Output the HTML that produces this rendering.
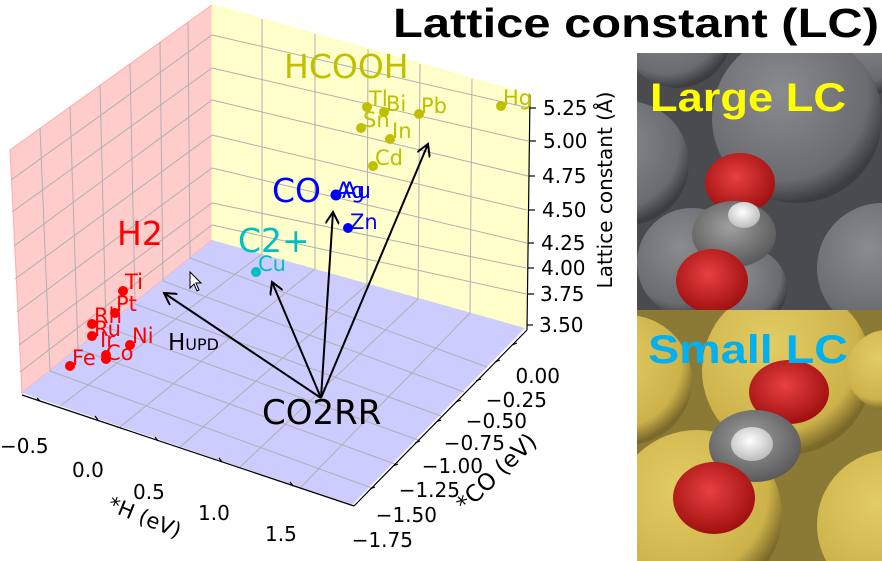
<!DOCTYPE html>
<html><head><meta charset="utf-8"><style>
html,body{margin:0;padding:0;background:#fff;width:882px;height:561px;overflow:hidden;}
svg{display:block;font-family:"DejaVu Sans","Liberation Sans",sans-serif;}
</style></head><body>
<svg width="882" height="561" viewBox="0 0 882 561" xmlns="http://www.w3.org/2000/svg" overflow="hidden">
<defs>
<marker id="ah" markerWidth="14" markerHeight="14" refX="12" refY="7" orient="auto" markerUnits="userSpaceOnUse">
<path d="M0,0 L12,7 L0,14" fill="none" stroke="#000" stroke-width="2"/></marker>
<radialGradient id="gg" cx="40%" cy="35%" r="65%"><stop offset="0" stop-color="#8a8b8f"/><stop offset="0.8" stop-color="#6a6b70"/><stop offset="1" stop-color="#3c3d41"/></radialGradient>
<radialGradient id="yg" cx="40%" cy="35%" r="65%"><stop offset="0" stop-color="#e3cc63"/><stop offset="0.8" stop-color="#cdb24a"/><stop offset="1" stop-color="#7c6a2a"/></radialGradient>
<radialGradient id="rg" cx="45%" cy="40%" r="60%"><stop offset="0" stop-color="#e84040"/><stop offset="1" stop-color="#a01010"/></radialGradient>
<radialGradient id="cg" cx="45%" cy="40%" r="60%"><stop offset="0" stop-color="#a0a0a0"/><stop offset="1" stop-color="#5a5a5a"/></radialGradient>
<radialGradient id="hg" cx="45%" cy="40%" r="60%"><stop offset="0" stop-color="#fff"/><stop offset="1" stop-color="#bcbcbc"/></radialGradient>
</defs>

<polygon points="10,150 212,5 212,240 22,393" fill="#ffcccc" stroke="#ffaaaa"/>
<polygon points="212,5 530,95 525,328 212,240" fill="#ffffcc" stroke="#ffffaa"/>
<polygon points="212,240 525,328 352,505 22,393" fill="#ccccff"/>
<g stroke="#b0b0b0" stroke-width="1" fill="none">
<line x1="40" y1="128" x2="50" y2="371"/><line x1="70" y1="107" x2="78" y2="349"/>
<line x1="100" y1="85" x2="106" y2="327"/><line x1="130" y1="64" x2="135" y2="304"/>
<line x1="160" y1="42" x2="163" y2="281"/><line x1="188" y1="22" x2="190" y2="258"/>
<line x1="11" y1="180" x2="212" y2="35"/><line x1="12" y1="212" x2="212" y2="68"/>
<line x1="14" y1="246" x2="212" y2="100"/><line x1="15" y1="279" x2="212" y2="135"/>
<line x1="17" y1="312" x2="212" y2="168"/><line x1="19" y1="345" x2="212" y2="203"/>
<line x1="20" y1="372" x2="212" y2="225"/>
<line x1="262" y1="19" x2="262" y2="254"/><line x1="315" y1="34" x2="315" y2="269"/>
<line x1="368" y1="49" x2="367" y2="284"/><line x1="420" y1="64" x2="418" y2="299"/>
<line x1="472" y1="79" x2="470" y2="313"/>
<line x1="212" y1="35" x2="529" y2="108"/><line x1="212" y1="68" x2="528" y2="141"/>
<line x1="212" y1="100" x2="528" y2="176"/><line x1="212" y1="135" x2="527" y2="210"/>
<line x1="212" y1="168" x2="527" y2="243"/><line x1="212" y1="203" x2="526" y2="268"/>
<line x1="212" y1="225" x2="526" y2="294"/>
<line x1="50" y1="371" x2="372" y2="488"/><line x1="78" y1="349" x2="395" y2="464"/>
<line x1="106" y1="327" x2="418" y2="440"/><line x1="135" y1="304" x2="441" y2="416"/>
<line x1="163" y1="281" x2="464" y2="392"/><line x1="190" y1="258" x2="487" y2="367"/>
<line x1="262" y1="254" x2="60" y2="406"/><line x1="315" y1="269" x2="120" y2="427"/>
<line x1="368" y1="284" x2="180" y2="447"/><line x1="418" y1="299" x2="240" y2="467"/>
<line x1="470" y1="313" x2="300" y2="488"/>
</g>
<g stroke="#000" stroke-width="1.2" fill="none">
<line x1="22" y1="395" x2="354" y2="506"/>
<line x1="354" y1="506" x2="527" y2="330"/>
<line x1="527" y1="330" x2="530" y2="95"/>
<line x1="40" y1="401" x2="37" y2="398"/><line x1="98" y1="420" x2="95" y2="416"/>
<line x1="158" y1="441" x2="155" y2="437"/><line x1="222" y1="462" x2="219" y2="458"/>
<line x1="293" y1="486" x2="290" y2="482"/>
<line x1="530" y1="108" x2="536" y2="108"/><line x1="530" y1="141" x2="536" y2="141"/>
<line x1="529" y1="176" x2="535" y2="176"/><line x1="529" y1="210" x2="535" y2="210"/>
<line x1="528" y1="243" x2="534" y2="243"/><line x1="528" y1="268" x2="534" y2="268"/>
<line x1="528" y1="294" x2="534" y2="294"/><line x1="527" y1="325" x2="533" y2="325"/>
<line x1="512" y1="345" x2="517" y2="343"/><line x1="495" y1="362" x2="500" y2="360"/>
<line x1="476" y1="381" x2="481" y2="379"/><line x1="456" y1="402" x2="461" y2="400"/>
<line x1="436" y1="422" x2="441" y2="420"/><line x1="415" y1="443" x2="420" y2="441"/>
<line x1="393" y1="466" x2="398" y2="464"/><line x1="370" y1="489" x2="375" y2="487"/>
</g>
<g font-size="20" fill="#000">
<text x="543" y="115">5.25</text><text x="543" y="148">5.00</text>
<text x="542" y="183">4.75</text><text x="542" y="217">4.50</text>
<text x="541" y="250">4.25</text><text x="541" y="275">4.00</text>
<text x="540" y="301">3.75</text><text x="539" y="332">3.50</text>
<text x="560" y="383" text-anchor="end">0.00</text><text x="547" y="407" text-anchor="end">−0.25</text>
<text x="527" y="428" text-anchor="end">−0.50</text><text x="505" y="450" text-anchor="end">−0.75</text>
<text x="483" y="473" text-anchor="end">−1.00</text><text x="460" y="497" text-anchor="end">−1.25</text>
<text x="437" y="522" text-anchor="end">−1.50</text><text x="413" y="547" text-anchor="end">−1.75</text>
<text x="0" y="453">−0.5</text><text x="72" y="477">0.0</text><text x="133" y="499">0.5</text>
<text x="198" y="520">1.0</text><text x="265" y="541">1.5</text>
<text transform="translate(612,190) rotate(-90)" text-anchor="middle" font-size="20">Lattice constant (Å)</text>
<text transform="translate(502,478) rotate(-44)" text-anchor="middle" font-size="23">*CO (eV)</text>
<text transform="translate(142,524) rotate(22)" text-anchor="middle" font-size="21">*H (eV)</text>
</g>
<g stroke="#000" stroke-width="2" fill="none" marker-end="url(#ah)">
<line x1="321" y1="398" x2="164" y2="293"/>
<line x1="321" y1="398" x2="272" y2="282"/>
<line x1="321" y1="398" x2="333" y2="212"/>
<line x1="321" y1="398" x2="428" y2="144"/>
</g>
<text x="262" y="424" font-size="34" fill="#000">CO2RR</text>
<text x="168" y="350" font-size="23" fill="#000">H<tspan font-size="16">UPD</tspan></text>
<g fill="#ff0000">
<circle cx="123" cy="291" r="5"/><circle cx="115" cy="313" r="5"/><circle cx="92" cy="324" r="5"/>
<circle cx="92" cy="336" r="5"/><circle cx="130" cy="345" r="5"/><circle cx="106" cy="355" r="5"/>
<circle cx="106" cy="359" r="5"/><circle cx="70" cy="366" r="5"/>
</g>
<g fill="#ff0000" font-size="21">
<text x="125" y="289">Ti</text><text x="116" y="311">Pt</text><text x="94" y="323">Rh</text>
<text x="94" y="336">Ru</text><text x="100" y="347">Ir</text><text x="132" y="343">Ni</text>
<text x="106" y="360">Co</text><text x="72" y="365">Fe</text>
<text x="117" y="245" font-size="33">H2</text>
</g>
<circle cx="256" cy="272" r="5" fill="#00bfbf"/>
<g fill="#00bfbf"><text x="258" y="271" font-size="21">Cu</text><text x="238" y="252" font-size="33">C2+</text></g>
<g fill="#0000ff">
<circle cx="336" cy="195" r="5.5"/><circle cx="348" cy="228" r="5"/>
<text x="272" y="202" font-size="33">CO</text><text x="336" y="198" font-size="22">Ag</text>
<text x="342" y="198" font-size="22">Au</text><text x="350" y="229" font-size="21">Zn</text>
</g>
<g fill="#bfbf00">
<circle cx="367" cy="107" r="5"/><circle cx="384" cy="112" r="5"/><circle cx="419" cy="114" r="5"/>
<circle cx="361" cy="128" r="5"/><circle cx="390" cy="139" r="5"/><circle cx="373" cy="166" r="5"/>
<circle cx="501" cy="106" r="5"/>
<text x="369" y="106" font-size="21">Tl</text><text x="386" y="111" font-size="21">Bi</text>
<text x="421" y="113" font-size="21">Pb</text><text x="363" y="127" font-size="21">Sn</text>
<text x="392" y="138" font-size="21">In</text><text x="375" y="165" font-size="21">Cd</text>
<text x="503" y="105" font-size="21">Hg</text>
<text x="284" y="78" font-size="33">HCOOH</text>
</g>
<path d="M190,272 l0,16 l4,-4 l3,7 l2,-1 l-3,-7 l5,0 z" fill="#fff" stroke="#000" stroke-width="1"/>

<text x="393" y="37" font-family="Liberation Sans, sans-serif" font-weight="bold" font-size="41" textLength="486" lengthAdjust="spacingAndGlyphs" fill="#000">Lattice constant (LC)</text>

<svg x="637" y="53" width="245" height="257">
<rect width="245" height="257" fill="#4a4b4f"/>
<circle cx="-10" cy="110" r="62" fill="url(#gg)"/>
<circle cx="40" cy="-20" r="55" fill="url(#gg)"/>
<circle cx="240" cy="-10" r="50" fill="url(#gg)"/>
<circle cx="160" cy="65" r="85" fill="url(#gg)"/>
<circle cx="55" cy="210" r="55" fill="url(#gg)"/>
<circle cx="245" cy="215" r="65" fill="url(#gg)"/>
<circle cx="110" cy="235" r="40" fill="url(#gg)"/>
<ellipse cx="103" cy="130" rx="35" ry="30" fill="url(#rg)"/>
<ellipse cx="97" cy="181" rx="42" ry="33" fill="url(#cg)"/>
<ellipse cx="107" cy="162" rx="16" ry="13" fill="url(#hg)"/>
<ellipse cx="75" cy="228" rx="36" ry="32" fill="url(#rg)"/>
<text x="13" y="58" font-family="Liberation Sans, sans-serif" font-weight="bold" font-size="40" fill="#ffff00" textLength="196" lengthAdjust="spacingAndGlyphs">Large LC</text>
</svg>
<svg x="637" y="310" width="245" height="251">
<rect width="245" height="251" fill="#8a7a35"/>
<circle cx="-10" cy="70" r="65" fill="url(#yg)"/>
<circle cx="150" cy="60" r="85" fill="url(#yg)"/>
<circle cx="250" cy="60" r="40" fill="url(#yg)"/>
<circle cx="60" cy="205" r="85" fill="url(#yg)"/>
<circle cx="255" cy="215" r="75" fill="url(#yg)"/>
<ellipse cx="152" cy="82" rx="40" ry="32" fill="url(#rg)"/>
<ellipse cx="118" cy="136" rx="46" ry="36" fill="url(#cg)"/>
<ellipse cx="115" cy="134" rx="21" ry="17" fill="url(#hg)"/>
<ellipse cx="77" cy="188" rx="41" ry="36" fill="url(#rg)"/>
<text x="11" y="53" font-family="Liberation Sans, sans-serif" font-weight="bold" font-size="40" fill="#00b0f0" textLength="200" lengthAdjust="spacingAndGlyphs">Small LC</text>
</svg>
</svg>
</body></html>
